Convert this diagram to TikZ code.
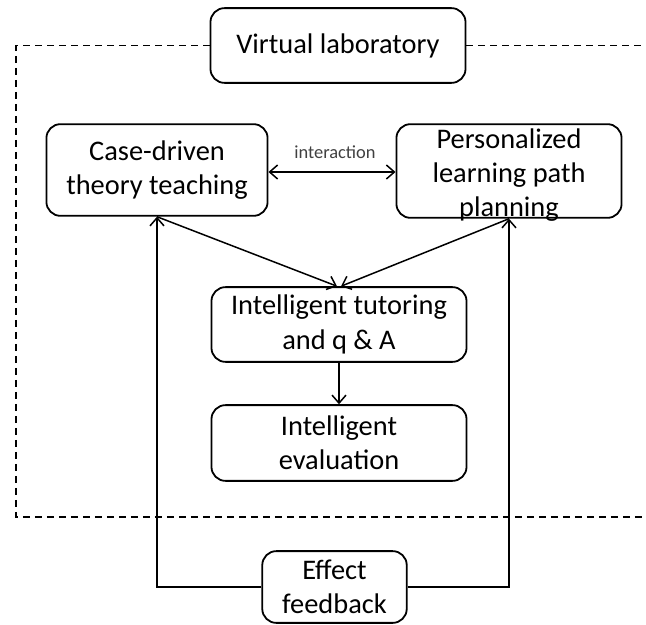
\documentclass[tikz,border=0pt]{standalone}
\usepackage{fontspec}
\setmainfont{Carlito}
\usetikzlibrary{arrows.meta}
\begin{document}
\begin{tikzpicture}[x=1bp,y=-1bp,
  box/.style={draw, line width=1.8bp, rounded corners=14bp, inner sep=0pt, align=center,
    font=\fontsize{28.5}{34.5}\selectfont},
  txt/.style={inner sep=0pt, align=center, font=\fontsize{28.5}{34.5}\selectfont},
  arr/.style={line width=1.5bp, -{Straight Barb[length=8bp,width=14bp,line width=1.5bp]}},
  frame/.style={line width=1.5bp, dash pattern=on 7bp off 5bp}
]
\useasboundingbox (0,0) rectangle (646,625);

% nodes
\node[box, minimum width=256, minimum height=75] (lab) at (338,45.5) {Virtual laboratory};
\node[box, minimum width=222, minimum height=92] (case) at (157,170) {Case-driven\\theory teaching};
\node[box, minimum width=226, minimum height=94] (plan) at (509,171) {};
\node[txt] (plantext) at (509,175) {Personalized\\learning path\\planning};
\node[box, minimum width=256, minimum height=75] (tut) at (339,324.5) {Intelligent tutoring\\and q \& A};
\node[box, minimum width=256, minimum height=76] (eval) at (339,443) {Intelligent\\evaluation};
\node[box, minimum width=145, minimum height=72] (fb) at (334.5,587) {Effect\\feedback};
\node[inner sep=0pt, text=black!75, font=\fontsize{18.5}{20}\selectfont] (inter) at (335,152) {interaction};

% dashed frame around the working area
\coordinate (fl) at (16,45.5);
\coordinate (fbl) at (16,517);
\coordinate (fbr) at (660,517);
\coordinate (ftr) at (660,45.5);
\draw[frame] (lab.west) -- (fl) -- (fbl) -- (fbr);
\draw[frame] (lab.east) -- (ftr);

% connectors
\draw[arr, {Straight Barb[length=8bp,width=14bp,line width=1.5bp]}-{Straight Barb[length=8bp,width=14bp,line width=1.5bp]}]
  (case.east |- 0,172) -- (plan.west |- 0,172);
\draw[arr] (case.south) -- ([xshift=-2bp]tut.north);
\draw[arr] (plan.south) -- ([xshift=2bp]tut.north);
\draw[arr] (tut.south) -- (eval.north);
\draw[arr] (fb.west) -| (case.south);
\draw[arr] (fb.east) -| (plan.south);
\end{tikzpicture}
\end{document}
